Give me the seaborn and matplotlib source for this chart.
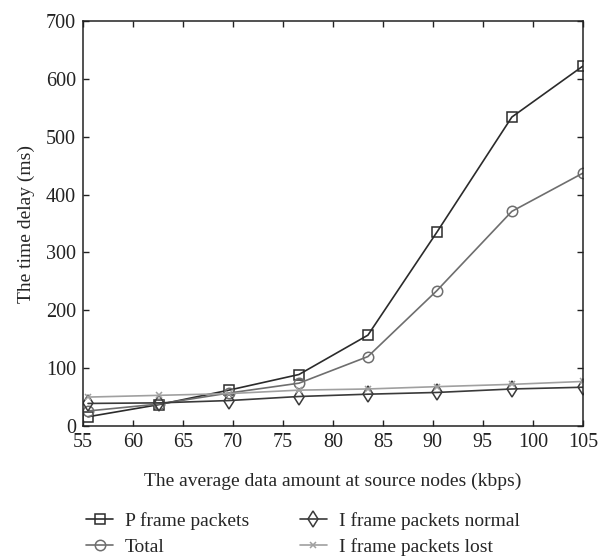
import numpy as np
import pandas as pd
import matplotlib
matplotlib.use("Agg")
import matplotlib.pyplot as plt
import seaborn as sns

# data
rate = [55.5, 62.6, 69.6, 76.6, 83.5, 90.4, 97.9, 105.0]
p_frame = [16, 37, 62, 89, 157, 335, 534, 622]
total = [26, 38, 57, 74, 120, 234, 371, 437]
i_normal = [39, 40, 44, 51, 55, 58, 64, 67]
i_lost = [50, 53, 56, 62, 64, 68, 72, 77]

series_names = ["P frame packets", "Total", "I frame packets normal", "I frame packets lost"]
series_values = [p_frame, total, i_normal, i_lost]
colors = ["#2b2b2b", "#6e6e6e", "#3a3a3a", "#a0a0a0"]
markers = ["s", "o", "d", "x"]
msizes = [7.5, 7.5, 8, 5]

sns.set_style("ticks")
plt.rcParams["font.family"] = ["Liberation Serif", "DejaVu Serif"]
plt.rcParams["font.size"] = 13

fig = plt.figure(figsize=(6.09, 5.56), dpi=100)
ax = fig.add_axes([0.1363, 0.2338, 0.8207, 0.7284])

for name, vals, c, m, ms in zip(series_names, series_values, colors, markers, msizes):
    df = pd.DataFrame({"rate": rate, "delay": vals})
    sns.lineplot(data=df, x="rate", y="delay", ax=ax, color=c, marker=m,
                 markersize=ms, markerfacecolor="none", markeredgecolor=c,
                 markeredgewidth=1.1, linewidth=1.2, label=name)

ax.set_xlim(55, 105)
ax.set_ylim(0, 700)
ax.set_xticks(np.arange(55, 106, 5))
ax.set_yticks(np.arange(0, 701, 100))
ax.tick_params(direction="in", top=True, right=True, length=4, width=1,
               labelsize=14.5, colors="#222222", pad=5)
for s in ax.spines.values():
    s.set_linewidth(1.1)
    s.set_color("#222222")

ax.set_xlabel("The average data amount at source nodes (kbps)", fontsize=14, labelpad=15)
ax.set_ylabel("The time delay (ms)", fontsize=14, labelpad=8)

handles, labels = ax.get_legend_handles_labels()
ax.legend(handles, labels,
          loc="upper center", bbox_to_anchor=(0.44, -0.17), ncol=2,
          frameon=False, fontsize=14, handlelength=1.4, columnspacing=2.6,
          labelspacing=0.4, handletextpad=0.6)

fig.savefig("out.png", dpi=100)
